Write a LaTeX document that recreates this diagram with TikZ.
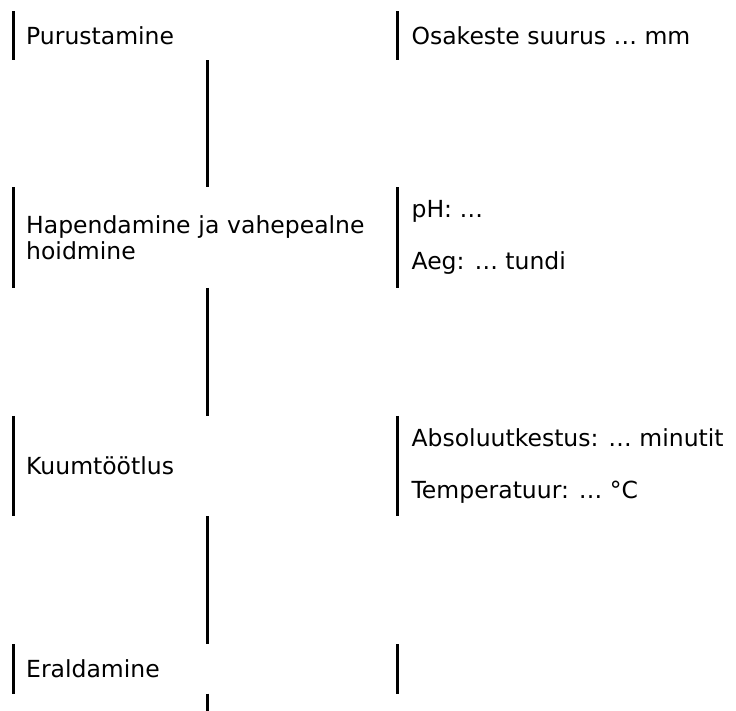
\documentclass[tikz,border=0pt]{standalone}
\usepackage{fontspec}
\setmainfont{DejaVu Sans}
\usetikzlibrary{positioning}
\tikzset{
    stepbox/.style={
        minimum width=388pt,
        minimum height=#1,
        inner xsep=12.5pt,
        inner ysep=0pt,
        text width=363pt,
        align=left,
        font=\fontsize{23.5pt}{26pt}\selectfont
    },
    parambox/.style={
        minimum height=#1,
        inner xsep=14pt,
        inner ysep=0pt,
        align=left,
        font=\fontsize{23.5pt}{52pt}\selectfont
    },
    bar/.style={line width=2.6pt},
    link/.style={line width=2.6pt}
}

\begin{document}
\begin{tikzpicture}[x=1pt, y=-1pt]
\useasboundingbox (0,0) rectangle (736,710);

\node[stepbox=49pt, anchor=north west] (s1) at (13.5,11) {Purustamine};
\node[stepbox=100pt, below=127pt of s1] (s2) {Hapendamine ja vahepealne\\hoidmine};
\node[stepbox=100pt, below=128pt of s2] (s3) {Kuumtöötlus};
\node[stepbox=49pt, below=128pt of s3] (s4) {Eraldamine};
\coordinate[below=18pt of s4] (end);

\node[parambox=49pt, right=-4.5pt of s1] (p1) {Osakeste suurus … mm};
\node[parambox=100pt, right=-4.5pt of s2] (p2) {pH: …\\Aeg: … tundi};
\node[parambox=100pt, right=-4.5pt of s3] (p3) {Absoluutkestus: … minutit\\Temperatuur: … °C};
\node[parambox=49pt, right=-4.5pt of s4] (p4) {};

\foreach \n in {s1,s2,s3,s4,p1,p2,p3,p4}
    \draw[bar] (\n.north west) -- (\n.south west);

\draw[link] (s1) -- (s2);
\draw[link] (s2) -- (s3);
\draw[link] (s3) -- (s4);
\draw[link] (s4) -- (end);

\end{tikzpicture}
\end{document}
